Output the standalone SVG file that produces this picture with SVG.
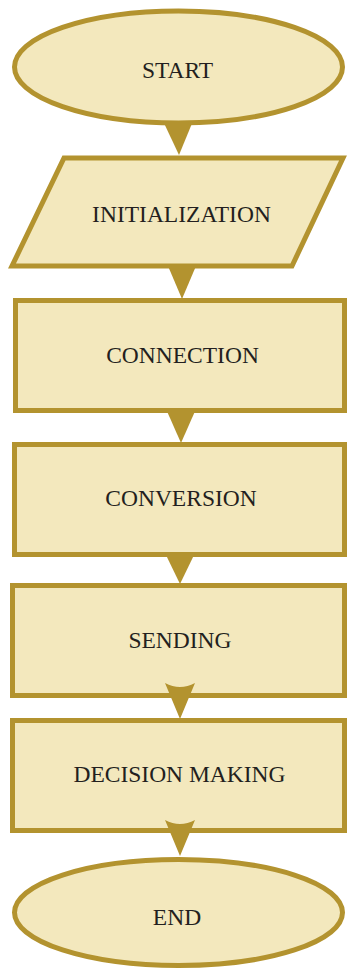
<svg xmlns="http://www.w3.org/2000/svg" width="347" height="970" viewBox="0 0 347 970">
<style>
.s{fill:#F3E8BD;stroke:#B3932F;stroke-width:5}
.t{font-family:"Liberation Serif","Times New Roman",serif;font-size:23.5px;fill:#231F20;text-anchor:middle}
.a{fill:#B3932F;stroke:none}
</style>
<rect width="347" height="970" fill="#FFFFFF"/>
<g id="start"><ellipse class="s" cx="178.5" cy="67" rx="164" ry="56"/><text class="t" x="177.5" y="78">START</text></g>
<g id="initialization"><polygon class="s" points="64,158 343,158 292,266 12,266"/><text class="t" x="181.5" y="222">INITIALIZATION</text></g>
<g id="connection"><rect class="s" x="15.5" y="300.5" width="329" height="110"/><text class="t" x="182.5" y="363">CONNECTION</text></g>
<g id="conversion"><rect class="s" x="14.5" y="444.5" width="330" height="110"/><text class="t" x="181" y="506">CONVERSION</text></g>
<g id="sending"><rect class="s" x="12.5" y="585.5" width="332" height="110"/><text class="t" x="180" y="648">SENDING</text></g>
<g id="decision"><rect class="s" x="12.5" y="720.5" width="332" height="110"/><text class="t" x="179.5" y="782">DECISION MAKING</text></g>
<g id="end"><ellipse class="s" cx="178.5" cy="912.5" rx="164" ry="53"/><text class="t" x="177" y="925">END</text></g>
<g id="connectors">
<path class="a" d="M163,121 L193,121 L179,155 Z"/>
<path class="a" d="M168,266 L196,266 L182,299 Z"/>
<path class="a" d="M166,409 L196,409 L181,443 Z"/>
<path class="a" d="M165,553 L195,553 L180,584 Z"/>
<path class="a" d="M165,683 Q180,691 195,683 L180,719 Z"/>
<path class="a" d="M165,820 Q180,828 195,820 L180,856 Z"/>
</g>
</svg>
